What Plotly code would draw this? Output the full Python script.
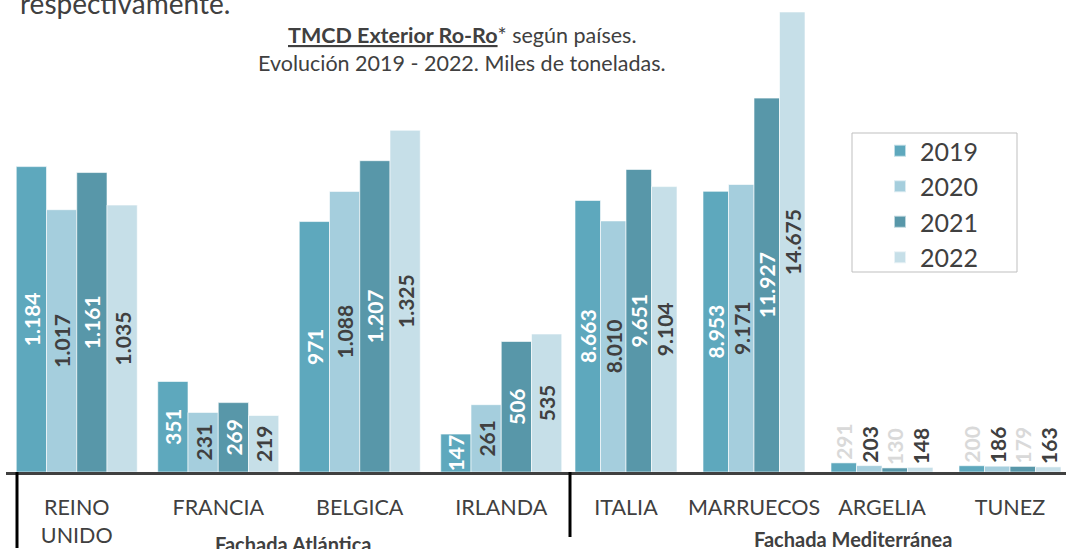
import plotly.graph_objects as go

years = ["2019", "2020", "2021", "2022"]
colors = ["#5EA8BD", "#A5CEDD", "#5897A9", "#C6DFE8"]

atl_countries = ["REINO<br>UNIDO", "FRANCIA", "BELGICA", "IRLANDA"]
atl_2019 = [1184, 351, 971, 147]
atl_2020 = [1017, 231, 1088, 261]
atl_2021 = [1161, 269, 1207, 506]
atl_2022 = [1035, 219, 1325, 535]

med_countries = ["ITALIA", "MARRUECOS", "ARGELIA", "TUNEZ"]
med_2019 = [8663, 8953, 291, 200]
med_2020 = [8010, 9171, 203, 186]
med_2021 = [9651, 11927, 130, 179]
med_2022 = [9104, 14675, 148, 163]

atl_series = [atl_2019, atl_2020, atl_2021, atl_2022]
med_series = [med_2019, med_2020, med_2021, med_2022]

W, H = 1066, 549
PLOT_BOTTOM = 472
FONT = "Lato"
DARK = "#404040"

inside_colors = ["white", DARK, "white", DARK]
outside_colors = ["#D9D9D9", DARK, "#D9D9D9", DARK]

fig = go.Figure()

w_atl = 30.25 / 141.5
w_med = 25.5 / 128.0
for i, yr in enumerate(years):
    fig.add_trace(go.Bar(
        x=atl_countries, y=atl_series[i], name=yr,
        marker=dict(color=colors[i], line=dict(color="rgba(255,255,255,0.6)", width=1)),
        width=w_atl, offset=-2 * w_atl + i * w_atl,
        texttemplate="%{y:,}", textposition="inside", insidetextanchor="middle",
        textangle=-90,
        insidetextfont=dict(family=FONT, size=21, color=inside_colors[i], weight="bold"),
        outsidetextfont=dict(family=FONT, size=21, color=outside_colors[i], weight="bold"),
        xaxis="x", yaxis="y", legendgroup=yr, showlegend=True, cliponaxis=False,
    ))
    pos = ["inside" if v > 1000 else "outside" for v in med_series[i]]
    fig.add_trace(go.Bar(
        x=med_countries, y=med_series[i], name=yr,
        marker=dict(color=colors[i], line=dict(color="rgba(255,255,255,0.6)", width=1)),
        width=w_med, offset=-2 * w_med + i * w_med,
        texttemplate="%{y:,}", textposition=pos, insidetextanchor="middle",
        textangle=-90,
        insidetextfont=dict(family=FONT, size=21, color=inside_colors[i], weight="bold"),
        outsidetextfont=dict(family=FONT, size=21, color=outside_colors[i], weight="bold"),
        xaxis="x2", yaxis="y2", legendgroup=yr, showlegend=False, cliponaxis=False,
    ))

def py(pix):
    return (PLOT_BOTTOM - pix) / PLOT_BOTTOM

axis_common = dict(
    type="category", showline=True, linewidth=3, linecolor=DARK,
    showgrid=False, zeroline=False, ticks="",
    tickfont=dict(family=FONT, size=21.5, color=DARK),
    ticklabelstandoff=14, fixedrange=True,
)

fig.update_layout(
    width=W, height=H,
    margin=dict(l=0, r=0, t=0, b=H - PLOT_BOTTOM, pad=0),
    paper_bgcolor="white", plot_bgcolor="white",
    separators=",.",
    barmode="group",
    uniformtext=dict(minsize=21, mode="show"),
    xaxis=dict(domain=[6 / W, 572 / W], range=[-0.5, 3.5], anchor="y", **axis_common),
    yaxis=dict(domain=[0, 1], range=[0, 1830], visible=False, anchor="x"),
    xaxis2=dict(domain=[562 / W, 1], range=[-0.5, 3.4375], anchor="y2", **axis_common),
    yaxis2=dict(domain=[0, 1], range=[0, 15057], visible=False, anchor="x2"),
    legend=dict(
        x=880 / W, y=py(128), xanchor="left", yanchor="top",
        font=dict(family=FONT, size=25, color=DARK),
        bgcolor="rgba(0,0,0,0)", borderwidth=0,
        itemsizing="constant", tracegroupgap=0,
    ),
    showlegend=True,
    font=dict(family=FONT, color=DARK),
)

shapes = [
    dict(type="rect", xref="paper", yref="paper",
         x0=852 / W, x1=1017 / W, y0=py(272), y1=py(133),
         line=dict(color="#BFBFBF", width=1), fillcolor="rgba(0,0,0,0)"),
    dict(type="line", xref="paper", yref="paper",
         x0=17 / W, x1=17 / W, y0=py(472), y1=py(548),
         line=dict(color="black", width=3)),
    dict(type="line", xref="paper", yref="paper",
         x0=570 / W, x1=570 / W, y0=py(472), y1=py(537),
         line=dict(color="black", width=3)),
]
fig.update_layout(shapes=shapes)

annotations = [
    dict(text="respectivamente.", x=18 / W, y=py(3), xref="paper", yref="paper",
         xanchor="left", yanchor="middle", showarrow=False,
         font=dict(family=FONT, size=28, color=DARK)),
    dict(text="<b><u>TMCD Exterior Ro-Ro</u></b>* según países.",
         x=462 / W, y=py(35), xref="paper", yref="paper",
         xanchor="center", yanchor="middle", showarrow=False,
         font=dict(family=FONT, size=21.5, color=DARK)),
    dict(text="Evolución 2019 - 2022. Miles de toneladas.",
         x=462 / W, y=py(63), xref="paper", yref="paper",
         xanchor="center", yanchor="middle", showarrow=False,
         font=dict(family=FONT, size=21.5, color=DARK)),
    dict(text="<b>Fachada Atlántica</b>", x=293 / W, y=py(544), xref="paper", yref="paper",
         xanchor="center", yanchor="middle", showarrow=False,
         font=dict(family=FONT, size=20, color=DARK)),
    dict(text="<b>Fachada Mediterránea</b>", x=853 / W, y=py(539), xref="paper", yref="paper",
         xanchor="center", yanchor="middle", showarrow=False,
         font=dict(family=FONT, size=20, color=DARK)),
]
fig.update_layout(annotations=annotations)

fig.write_html(
    "out.html",
    config={"displayModeBar": False},
    post_script="document.body.style.margin='0';document.body.style.overflow='hidden';",
)
